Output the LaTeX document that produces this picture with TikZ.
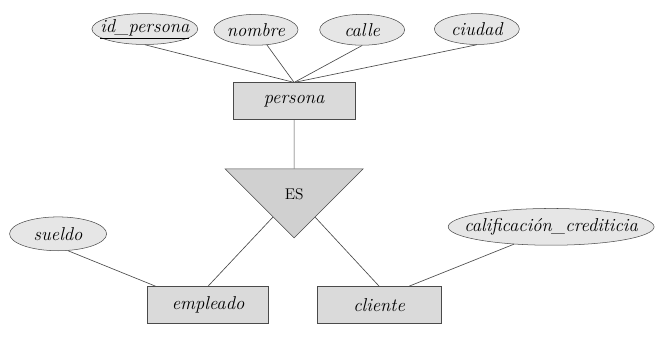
\documentclass[tikz,border=0pt]{standalone}
\usepackage{xcolor}
\definecolor{attrfill}{HTML}{E6E6E6}
\definecolor{entfill}{HTML}{DADADA}
\definecolor{isafill}{HTML}{D0D0D0}
\definecolor{edge}{HTML}{4A4A4A}
\usepackage{tikz}
\usetikzlibrary{shapes.geometric}

\begin{document}
\begin{tikzpicture}[
  attr/.style={ellipse, draw=edge, fill=attrfill, inner sep=0pt,
    minimum width=#1, minimum height=0.84cm, font=\Large\itshape,
    execute at begin node={\hbox to 0pt\bgroup\hss},
    execute at end node={\hss\egroup}},
  entity/.style={rectangle, draw=edge, fill=entfill, inner sep=0pt,
    minimum width=#1, minimum height=1.0cm, font=\Large\itshape},
  isa/.style={isosceles triangle, isosceles triangle apex angle=90,
    shape border rotate=-90, draw=edge, fill=isafill, inner sep=0pt,
    minimum width=3.75cm, minimum height=1.88cm, font=\large},
  link/.style={draw=edge, line width=0.5pt}
]
  \useasboundingbox (0,0) rectangle (18.25,9.22);

  % persona and its attributes
  \node[attr=2.88cm] (idp) at (3.94, 8.43) {\underline{id\_persona}};
  \node[attr=2.29cm] (nom) at (6.96, 8.41) {nombre};
  \node[attr=2.31cm] (cal) at (9.85, 8.41) {calle};
  \node[attr=2.31cm] (ciu) at (12.97, 8.43) {ciudad};
  \node[entity=3.32cm] (per) at (8.00, 6.47) {persona};

  % specialization
  \node[isa] (es) at (8.00, 3.93) {ES};

  % subclasses
  \node[attr=2.64cm, minimum height=0.92cm] (sue) at (1.58, 2.86) {sueldo};
  \node[attr=5.60cm, minimum height=1.0cm] (cre) at (14.99, 3.05) {calificación\_crediticia};
  \node[entity=3.29cm] (emp) at (5.66, 0.93) {empleado};
  \node[entity=3.37cm] (cli) at (10.31, 0.93) {cliente};

  \draw[link] (idp.south) -- (per.north);
  \draw[link] (nom) -- (per.north);
  \draw[link] (cal.south) -- (per.north);
  \draw[link] (ciu.south) -- (per.north);
  \draw[link] (per) -- (es);
  \draw[link] (es) -- (emp.north);
  \draw[link] (es) -- (cli.north);
  \draw[link] (sue.-60) -- ([xshift=0.22cm]emp.north west);
  \draw[link] (cre.205) -- ([xshift=0.82cm]cli.north);
\end{tikzpicture}
\end{document}
